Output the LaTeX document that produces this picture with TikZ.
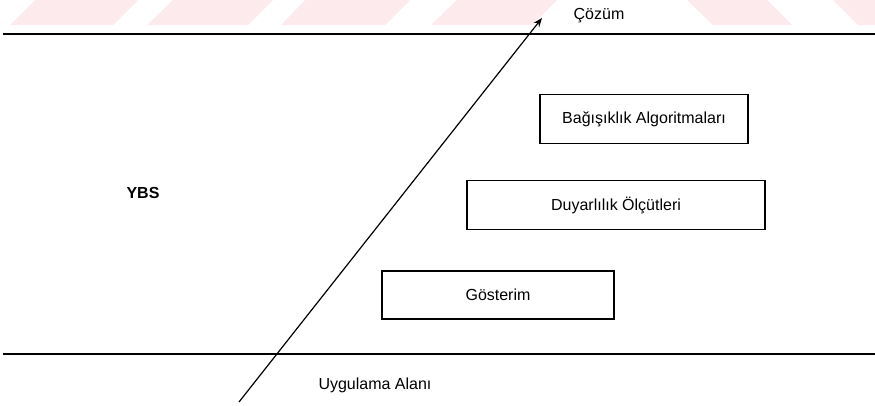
\documentclass[tikz,border=0pt]{standalone}
\usepackage{fontspec}
\setmainfont{Liberation Sans}
\usetikzlibrary{arrows.meta}
\definecolor{wmpink}{RGB}{253,234,237}
\begin{document}
\begin{tikzpicture}[x=1pt,y=-1pt,
  rule/.style={line width=1.4pt},
  stage/.style={draw, line width=1.3pt, rectangle, inner sep=0pt,
    font=\fontsize{16}{18}\selectfont},
  lbl/.style={inner sep=0pt, font=\fontsize{16}{18}\selectfont},
  stripe/.style={fill=wmpink, draw=none}]
\useasboundingbox (0,0) rectangle (875,405);
% faint diagonal stripes along the top edge
\fill[stripe] (10,25) -- (35,0) -- (138,0) -- (113,25) -- cycle;
\fill[stripe] (147,25) -- (173,0) -- (273,0) -- (248,25) -- cycle;
\fill[stripe] (281,25) -- (305,0) -- (410,0) -- (385,25) -- cycle;
\fill[stripe] (431,25) -- (457,0) -- (557,0) -- (532,25) -- cycle;
\fill[stripe] (687,0) -- (767,0) -- (792,25) -- (713,25) -- cycle;
\fill[stripe] (833,0) -- (875,0) -- (875,25) -- (858,25) -- cycle;
% horizontal layer rules
\coordinate (tl) at (3,34);
\coordinate (tr) at (875,34);
\coordinate (bl) at (3,354);
\coordinate (br) at (875,354);
\draw[rule] (tl) -- (tr);
\draw[rule] (bl) -- (br);
% stages
\node[stage, minimum width=208pt, minimum height=49pt] (alg) at (644,119) {Bağışıklık Algoritmaları};
\node[stage, minimum width=298pt, minimum height=49pt] (duy) at (616,205) {Duyarlılık Ölçütleri};
\node[stage, minimum width=232pt, minimum height=48pt] (gos) at (498,295) {Gösterim};
% labels
\node[lbl, font=\fontsize{16}{18}\selectfont\bfseries] (ybs) at (143,193) {YBS};
\node[lbl] (uyg) at (375,385) {Uygulama Alanı};
\node[lbl] (coz) at (599,16) {Çözüm};
% rising arrow
\coordinate (start) at (239,402);
\coordinate (tip) at (542,18);
\draw[line width=1.2pt, -{Stealth[length=9pt,width=7pt]}] (start) -- (tip);
\end{tikzpicture}
\end{document}
